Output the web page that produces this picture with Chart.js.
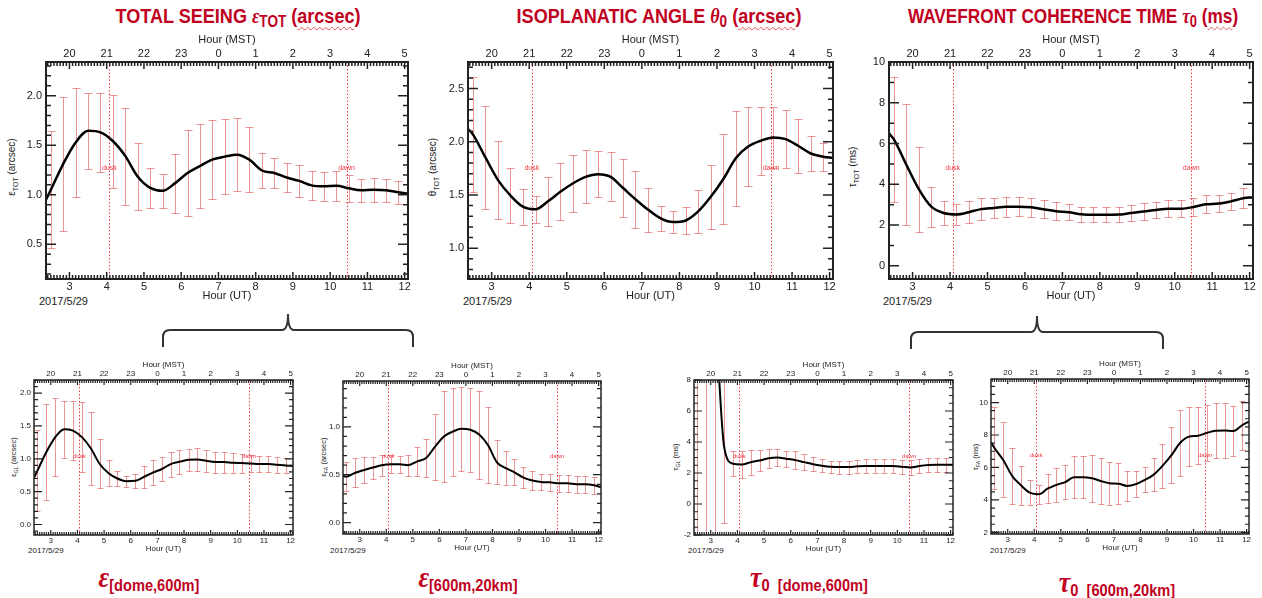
<!DOCTYPE html>
<html>
<head>
<meta charset="utf-8">
<script src="https://cdn.jsdelivr.net/npm/chart.js@4.4.1/dist/chart.umd.min.js"></script>
<style>
  body { margin: 0; background: #fff; width: 1262px; height: 598px; position: relative; overflow: hidden;
         font-family: "Liberation Sans", Arial, sans-serif; color: #222; }
  canvas { position: absolute; }
  .ttl { position: absolute; color: #c0001e; font-family: "Liberation Sans Narrow", "Arial Narrow", "Liberation Sans", sans-serif;
         font-weight: bold; white-space: nowrap; line-height: 1; transform: translateX(-50%) scaleX(0.86); }
  .ttl .g { font-family: "Liberation Serif", serif; font-style: italic; }
  .ttl sub { font-size: 0.75em; vertical-align: -0.25em; line-height: 0; }
  .wavy { text-decoration: underline wavy #e05050; text-decoration-thickness: 1px; text-underline-offset: 3px; }
  .ytl { position: absolute; white-space: nowrap; transform: translate(-50%, -50%) rotate(-90deg); color: #222; }
  .ytl sub { font-size: 0.7em; }
  .date { position: absolute; white-space: nowrap; color: #222; }
  svg { position: absolute; left: 0; top: 0; }
</style>
</head>
<body>

<div class="ttl" style="left:238px;top:5px;font-size:21px">TOTAL SEEING <span class="g">ε</span><sub>TOT</sub> (<span class="wavy">arcsec</span>)</div>
<div class="ttl" style="left:659px;top:5px;font-size:21px">ISOPLANATIC ANGLE <span class="g">θ</span><sub>0</sub> (<span class="wavy">arcsec</span>)</div>
<div class="ttl" style="left:1073px;top:5px;font-size:21px;transform:translateX(-50%) scaleX(0.82)">WAVEFRONT COHERENCE TIME <span class="g">τ</span><sub>0</sub> (<span class="wavy">ms</span>)</div>

<div class="ttl" style="left:149px;top:562px;font-size:17px"><span class="g" style="font-size:30px">ε</span><sub style="font-size:17px">[dome,600m]</sub></div>
<div class="ttl" style="left:468px;top:562px;font-size:17px"><span class="g" style="font-size:30px">ε</span><sub style="font-size:17px">[600m,20km]</sub></div>
<div class="ttl" style="left:809px;top:562px;font-size:17px"><span class="g" style="font-size:30px">τ</span><sub style="font-size:17px">0&nbsp; [dome,600m]</sub></div>
<div class="ttl" style="left:1117px;top:567px;font-size:17px"><span class="g" style="font-size:30px">τ</span><sub style="font-size:17px">0&nbsp; [600m,20km]</sub></div>

<div class="ytl" style="left:12px;top:167px;font-size:10px">ε<sub>TOT</sub> (arcsec)</div>
<div class="ytl" style="left:433px;top:167px;font-size:10px">θ<sub>TOT</sub> (arcsec)</div>
<div class="ytl" style="left:853px;top:167px;font-size:10px">τ<sub>TOT</sub> (ms)</div>
<div class="ytl" style="left:14px;top:457px;font-size:7.5px">ε<sub>GL</sub> (arcsec)</div>
<div class="ytl" style="left:324px;top:457px;font-size:7.5px">ε<sub>FA</sub> (arcsec)</div>
<div class="ytl" style="left:676px;top:457px;font-size:7.5px">τ<sub>GL</sub> (ms)</div>
<div class="ytl" style="left:976px;top:457px;font-size:7.5px">τ<sub>FA</sub> (ms)</div>

<div class="date" style="left:39px;top:295px;font-size:11px">2017/5/29</div>
<div class="date" style="left:463px;top:295px;font-size:11px">2017/5/29</div>
<div class="date" style="left:883px;top:295px;font-size:11px">2017/5/29</div>
<div class="date" style="left:28px;top:546px;font-size:8px">2017/5/29</div>
<div class="date" style="left:330px;top:546px;font-size:8px">2017/5/29</div>
<div class="date" style="left:688px;top:546px;font-size:8px">2017/5/29</div>
<div class="date" style="left:990px;top:546px;font-size:8px">2017/5/29</div>

<svg width="1262" height="598">
  <path d="M163,347 L163,337 Q163,330 170,330 L282,330 Q288,330 288,314 Q288,330 294,330 L406,330 Q413,330 413,337 L413,347"
        fill="none" stroke="#333" stroke-width="2"/>
  <path d="M911,349 L911,339 Q911,332 918,332 L1031,332 Q1037,332 1037,316 Q1037,332 1043,332 L1156,332 Q1163,332 1163,339 L1163,349"
        fill="none" stroke="#333" stroke-width="2"/>
</svg>

<script>
// ---- data ----
const hoursUT = [2.5, 2.83, 3.17, 3.5, 3.83, 4.17, 4.5, 4.83, 5.17, 5.5, 5.83, 6.17, 6.5, 6.83, 7.17,
                 7.5, 7.83, 8.17, 8.5, 8.83, 9.17, 9.5, 9.83, 10.17, 10.5, 10.83, 11.17, 11.5, 11.83];
const utTicks = [3, 4, 5, 6, 7, 8, 9, 10, 11, 12];
const mstLabels = ['20', '21', '22', '23', '0', '1', '2', '3', '4', '5'];
const xMin = 2.37, xMax = 12.09;
const duskUT = 4.07, dawnUT = 10.44;

// total seeing (arcsec)
const epsTotMean = [1.05, 1.31, 1.53, 1.645, 1.63, 1.54, 1.39, 1.185, 1.07, 1.04, 1.115, 1.22, 1.29, 1.355, 1.385,
                    1.405, 1.355, 1.245, 1.22, 1.175, 1.14, 1.095, 1.085, 1.09, 1.065, 1.045, 1.05, 1.045, 1.025];
const epsTotErr = [0.59, 0.675, 0.55, 0.385, 0.40, 0.47, 0.49, 0.335, 0.20, 0.17, 0.295, 0.43, 0.42, 0.395, 0.375,
                   0.365, 0.325, 0.175, 0.15, 0.145, 0.16, 0.145, 0.145, 0.15, 0.135, 0.115, 0.12, 0.115, 0.115];
const epsTotEnds = [0.95, 1.01];
const epsTotTicks = [0.5, 1.0, 1.5, 2.0];

// isoplanatic angle (arcsec)
const thetaMean = [2.07, 1.855, 1.64, 1.495, 1.39, 1.365, 1.44, 1.53, 1.61, 1.67, 1.695, 1.67, 1.565, 1.46, 1.36,
                   1.28, 1.245, 1.26, 1.345, 1.48, 1.65, 1.845, 1.955, 2.01, 2.04, 2.025, 1.96, 1.89, 1.86];
const thetaErr = [0.54, 0.485, 0.37, 0.255, 0.17, 0.125, 0.23, 0.27, 0.27, 0.25, 0.215, 0.23, 0.275, 0.27, 0.21,
                  0.12, 0.105, 0.13, 0.205, 0.30, 0.42, 0.445, 0.375, 0.32, 0.29, 0.275, 0.25, 0.16, 0.13];
const thetaEnds = [2.12, 1.85];
const thetaTicks = [1.0, 1.5, 2.0, 2.5];

// coherence time (ms)
const tauMean = [6.2, 4.97, 3.75, 2.9, 2.59, 2.52, 2.63, 2.78, 2.84, 2.9, 2.9, 2.87, 2.77, 2.68, 2.63,
                 2.53, 2.5, 2.5, 2.51, 2.59, 2.66, 2.74, 2.8, 2.8, 2.88, 3.02, 3.05, 3.16, 3.31];
const tauErr = [3.07, 2.97, 2.08, 0.98, 0.59, 0.5, 0.55, 0.53, 0.5, 0.49, 0.46, 0.47, 0.44, 0.43, 0.39,
                0.37, 0.37, 0.37, 0.38, 0.39, 0.41, 0.41, 0.42, 0.42, 0.43, 0.45, 0.43, 0.43, 0.49];
const tauEnds = [6.5, 3.36];
const tauTicks = [0, 2, 4, 6, 8, 10];

// seeing, ground layer dome-600m
const epsGlMean = [0.82, 1.10, 1.33, 1.45, 1.43, 1.33, 1.16, 0.925, 0.78, 0.70, 0.66, 0.665, 0.725, 0.79, 0.845,
                   0.92, 0.955, 0.985, 0.99, 0.97, 0.95, 0.95, 0.94, 0.935, 0.93, 0.92, 0.92, 0.91, 0.90];
const epsGlErr = [0.62, 0.73, 0.59, 0.43, 0.45, 0.53, 0.56, 0.375, 0.20, 0.11, 0.085, 0.105, 0.165, 0.19, 0.185,
                  0.19, 0.18, 0.165, 0.17, 0.17, 0.16, 0.16, 0.15, 0.145, 0.13, 0.12, 0.12, 0.12, 0.11];
const epsGlEnds = [0.71, 0.89];
const epsGlTicks = [0.0, 0.5, 1.0, 1.5, 2.0];

// seeing, free atmosphere 600m-20km
const epsFaMean = [0.48, 0.52, 0.55, 0.575, 0.60, 0.61, 0.61, 0.60, 0.64, 0.675, 0.79, 0.90, 0.95, 0.98, 0.97,
                   0.92, 0.81, 0.63, 0.57, 0.525, 0.47, 0.44, 0.425, 0.42, 0.41, 0.41, 0.40, 0.40, 0.39];
const epsFaErr = [0.15, 0.15, 0.14, 0.115, 0.11, 0.095, 0.09, 0.11, 0.15, 0.195, 0.35, 0.48, 0.46, 0.44, 0.44,
                  0.46, 0.40, 0.23, 0.18, 0.135, 0.11, 0.095, 0.085, 0.09, 0.09, 0.09, 0.09, 0.09, 0.09];
const epsFaEnds = [0.485, 0.37];
const epsFaTicks = [0.0, 0.5, 1.0];

// coherence time, ground layer dome-600m
const tauGlMean = [16, 14, 11.7, 3.7, 2.6, 2.55, 2.7, 2.8, 2.95, 3.0, 2.92, 2.83, 2.7, 2.57, 2.47,
                   2.4, 2.38, 2.38, 2.43, 2.45, 2.45, 2.45, 2.45, 2.41, 2.36, 2.45, 2.51, 2.53, 2.53];
const tauGlErr = [20, 20, 16, 4.9, 0.8, 0.85, 0.8, 0.7, 0.63, 0.53, 0.53, 0.57, 0.52, 0.47, 0.43,
                  0.4, 0.42, 0.42, 0.43, 0.45, 0.45, 0.45, 0.45, 0.45, 0.46, 0.45, 0.46, 0.47, 0.47];
const tauGlEnds = [18, 2.54];
const tauGlTicks = [-2, 0, 2, 4, 6, 8];

// coherence time, free atmosphere 600m-20km
const tauFaMean = [7.2, 6.46, 5.47, 4.9, 4.45, 4.35, 4.69, 4.93, 5.1, 5.4, 5.4, 5.34, 5.17, 5.03, 5.0,
                   4.86, 4.97, 5.24, 5.56, 6.1, 6.76, 7.52, 7.9, 7.96, 8.13, 8.26, 8.28, 8.24, 8.6];
const tauFaErr = [2.5, 2.31, 1.71, 1.2, 0.75, 0.58, 0.9, 1.03, 1.05, 1.28, 1.28, 1.44, 1.4, 1.33, 1.25,
                  0.95, 0.82, 0.77, 1.04, 1.36, 1.72, 2.03, 1.8, 1.75, 1.72, 1.7, 1.68, 1.56, 1.5];
const tauFaEnds = [7.55, 8.83];
const tauFaTicks = [2, 4, 6, 8, 10];

// ---- layout ----
const panels = [
  { mean: epsTotMean, err: epsTotErr, ends: epsTotEnds, ticks: epsTotTicks, yMin: 0.15, yMax: 2.34, minor: 0.1, dec: 1, plot: [46, 62, 408, 279], small: false },
  { mean: thetaMean, err: thetaErr, ends: thetaEnds, ticks: thetaTicks, yMin: 0.71, yMax: 2.75, minor: 0.1, dec: 1, plot: [468, 62, 833, 279], small: false },
  { mean: tauMean, err: tauErr, ends: tauEnds, ticks: tauTicks, yMin: -0.65, yMax: 10, minor: 1, dec: 0, plot: [889, 62, 1253, 279], small: false },
  { mean: epsGlMean, err: epsGlErr, ends: epsGlEnds, ticks: epsGlTicks, yMin: -0.16, yMax: 2.2, minor: 0.1, dec: 1, plot: [34, 380, 293, 535], small: true },
  { mean: epsFaMean, err: epsFaErr, ends: epsFaEnds, ticks: epsFaTicks, yMin: -0.12, yMax: 1.48, minor: 0.1, dec: 1, plot: [343, 381, 601, 534], small: true },
  { mean: tauGlMean, err: tauGlErr, ends: tauGlEnds, ticks: tauGlTicks, yMin: -2, yMax: 8, minor: 0.5, dec: 0, plot: [694, 380, 953, 535], small: true },
  { mean: tauFaMean, err: tauFaErr, ends: tauFaEnds, ticks: tauFaTicks, yMin: 1.9, yMax: 11.45, minor: 0.5, dec: 0, plot: [991, 379, 1249, 534], small: true }
];

const big = { font: 11, yW: 40, top: 30, bottom: 24, right: 10, line: 2.5, cap: 4, major: 7, minorLen: 4, tickW: 1.5, frame: 2, mark: 7, yPad: 4, mstPad: 1, mstTitlePad: 1 };
const small = { font: 8, yW: 30, top: 20, bottom: 19, right: 8, line: 2, cap: 3, major: 5, minorLen: 3, tickW: 1.2, frame: 1.5, mark: 6, yPad: 3, mstPad: 1, mstTitlePad: 0 };

const errColor = 'rgba(222, 80, 80, 0.6)';
const markColor = '#f03a44';
const axisColor = '#222';

function panelPlugin(p, s) {
  return {
    id: 'panelDeco',
    beforeDatasetsDraw(chart) {
      const { ctx, chartArea: a, scales: { x, y } } = chart;
      ctx.save();
      ctx.beginPath();
      ctx.rect(a.left, a.top, a.right - a.left, a.bottom - a.top);
      ctx.clip();

      // dusk / dawn markers
      ctx.strokeStyle = markColor;
      ctx.lineWidth = 1;
      ctx.setLineDash([1.5, 2]);
      [duskUT, dawnUT].forEach(v => {
        const px = Math.round(x.getPixelForValue(v)) + 0.5;
        ctx.beginPath();
        ctx.moveTo(px, a.top);
        ctx.lineTo(px, a.bottom);
        ctx.stroke();
      });
      ctx.setLineDash([]);
      ctx.fillStyle = markColor;
      ctx.font = s.mark + 'px "Liberation Sans"';
      ctx.textAlign = 'center';
      ctx.textBaseline = 'middle';
      const ly = a.top + (a.bottom - a.top) * 0.49;
      ctx.fillText('dusk', x.getPixelForValue(duskUT), ly);
      ctx.fillText('dawn', x.getPixelForValue(dawnUT), ly);

      // error bars
      ctx.strokeStyle = errColor;
      ctx.lineWidth = 1;
      hoursUT.forEach((h, i) => {
        const px = Math.round(x.getPixelForValue(h)) + 0.5;
        const hi = Math.round(y.getPixelForValue(p.mean[i] + p.err[i])) + 0.5;
        const lo = Math.round(y.getPixelForValue(p.mean[i] - p.err[i])) + 0.5;
        ctx.beginPath();
        ctx.moveTo(px, hi); ctx.lineTo(px, lo);
        ctx.moveTo(px - s.cap, hi); ctx.lineTo(px + s.cap, hi);
        ctx.moveTo(px - s.cap, lo); ctx.lineTo(px + s.cap, lo);
        ctx.stroke();
      });
      ctx.restore();
    },
    afterDatasetsDraw(chart) {
      const { ctx, chartArea: a, scales: { x, y } } = chart;
      ctx.save();
      ctx.strokeStyle = axisColor;
      ctx.lineCap = 'butt';
      const L = a.left, R = a.right, T = a.top, B = a.bottom;

      // minor and major ticks, pointing inward on all four sides
      ctx.lineWidth = s.tickW;
      ctx.beginPath();
      for (let k = Math.ceil(xMin * 12); k <= Math.floor(xMax * 12); k++) {
        const len = (k % 12 === 0) ? s.major : s.minorLen;
        const px = x.getPixelForValue(k / 12);
        ctx.moveTo(px, B);
        ctx.lineTo(px, B - len);
        ctx.moveTo(px, T);
        ctx.lineTo(px, T + len);
      }
      const n0 = Math.ceil(p.yMin / p.minor - 1e-6), n1 = Math.floor(p.yMax / p.minor + 1e-6);
      for (let k = n0; k <= n1; k++) {
        const v = k * p.minor;
        const isMajor = p.ticks.some(t => Math.abs(t - v) < 1e-6);
        const len = isMajor ? s.major + 3 : s.minorLen + 1;
        const py = y.getPixelForValue(v);
        ctx.moveTo(L, py);
        ctx.lineTo(L + len, py);
        ctx.moveTo(R, py);
        ctx.lineTo(R - len, py);
      }
      ctx.stroke();

      // frame
      ctx.lineWidth = s.frame;
      ctx.strokeRect(L, T, R - L, B - T);
      ctx.restore();
    }
  };
}

function makePanel(p) {
  const s = p.small ? small : big;
  const [l, t, r, b] = p.plot;
  const cv = document.createElement('canvas');
  cv.width = s.yW + (r - l) + s.right;
  cv.height = s.top + (b - t) + s.bottom;
  cv.style.left = (l - s.yW) + 'px';
  cv.style.top = (t - s.top) + 'px';
  document.body.appendChild(cv);

  const lineData = [{ x: xMin, y: p.ends[0] }]
    .concat(hoursUT.map((h, i) => ({ x: h, y: p.mean[i] })))
    .concat([{ x: xMax, y: p.ends[1] }]);
  const font = { family: '"Liberation Sans", Arial, sans-serif', size: s.font };
  const noGrid = { display: false, drawTicks: false, tickLength: 0 };

  new Chart(cv, {
    type: 'line',
    data: {
      datasets: [{
        data: lineData,
        borderColor: '#000',
        borderWidth: s.line,
        pointRadius: 0,
        cubicInterpolationMode: 'monotone',
        xAxisID: 'x',
        yAxisID: 'y'
      }]
    },
    options: {
      responsive: false,
      animation: false,
      layout: { padding: { left: 0, right: s.right, top: 0, bottom: 0 } },
      plugins: { legend: { display: false }, tooltip: { enabled: false } },
      scales: {
        x: {
          type: 'linear', position: 'bottom', min: xMin, max: xMax,
          grid: noGrid, border: { display: false },
          afterBuildTicks: sc => { sc.ticks = utTicks.map(v => ({ value: v })); },
          ticks: { font, color: axisColor, padding: 1, autoSkip: false, maxRotation: 0, callback: v => String(v) },
          title: { display: true, text: 'Hour (UT)', font, color: axisColor, padding: { top: 0, bottom: 0 } },
          afterFit: sc => { sc.height = s.bottom; }
        },
        x2: {
          type: 'linear', position: 'top', min: xMin, max: xMax,
          grid: noGrid, border: { display: false },
          afterBuildTicks: sc => { sc.ticks = utTicks.map(v => ({ value: v })); },
          ticks: { font, color: axisColor, padding: s.mstPad, autoSkip: false, maxRotation: 0, callback: (v, i) => mstLabels[i] },
          title: { display: true, text: 'Hour (MST)', font, color: axisColor, padding: { top: s.mstTitlePad, bottom: 0 } },
          afterFit: sc => { sc.height = s.top; }
        },
        y: {
          type: 'linear', position: 'left', min: p.yMin, max: p.yMax,
          grid: noGrid, border: { display: false },
          afterBuildTicks: sc => { sc.ticks = p.ticks.map(v => ({ value: v })); },
          ticks: { font, color: axisColor, padding: s.yPad, callback: v => v.toFixed(p.dec) },
          afterFit: sc => { sc.width = s.yW; }
        }
      }
    },
    plugins: [panelPlugin(p, s)]
  });
}

panels.forEach(makePanel);
</script>
</body>
</html>
